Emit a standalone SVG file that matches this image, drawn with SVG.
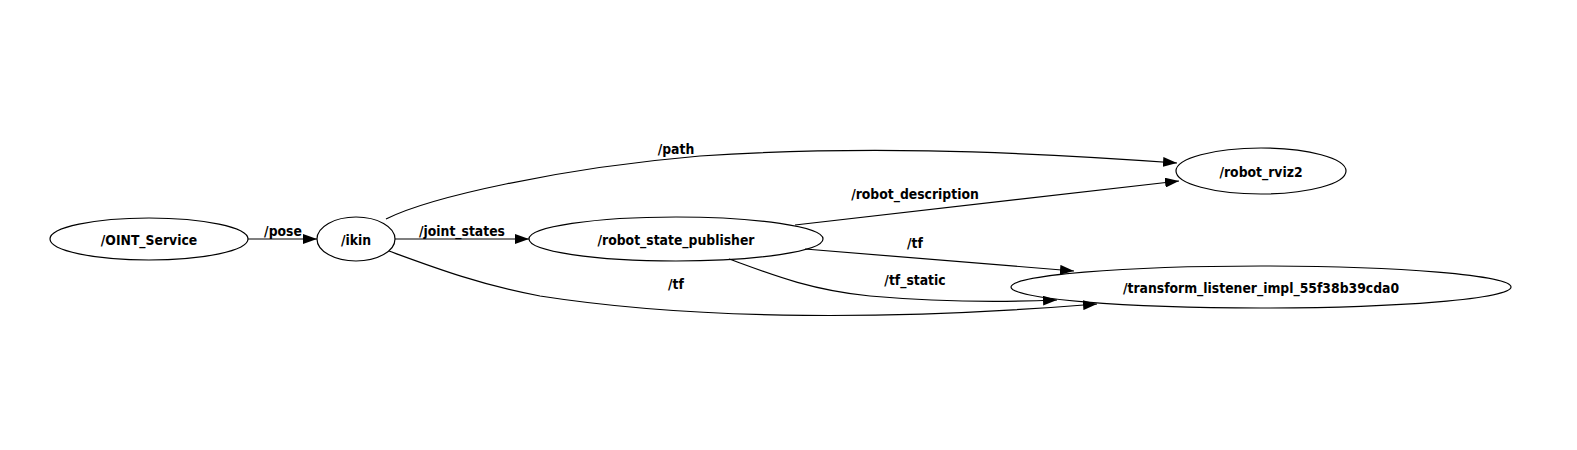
<svg xmlns="http://www.w3.org/2000/svg" width="1577" height="450" viewBox="0 0 1577 450">
<style>
.node ellipse{fill:none;stroke:#000;stroke-width:1.2}
text{font-family:"DejaVu Sans Condensed","DejaVu Sans",sans-serif;font-stretch:condensed;font-weight:bold;font-size:13.8px;fill:#000;text-anchor:middle}
.edges path{fill:none;stroke:#000;stroke-width:1.2}
</style>
<defs>
<marker id="ah" viewBox="0 0 14 10" refX="14" refY="5" markerWidth="14" markerHeight="10" markerUnits="userSpaceOnUse" orient="auto">
<path d="M0,0 L14,5 L0,10 Z" fill="#000"/>
</marker>
</defs>
<rect width="1577" height="450" fill="#fff"/>
<g class="edges">
<path d="M248,239 L317,239" marker-end="url(#ah)"/>
<path d="M395,239 L529,239" marker-end="url(#ah)"/>
<path d="M386,219 C 430,197 560,168 700,156 C 850,146 1000,150 1177,163" marker-end="url(#ah)"/>
<path d="M795,225 L1179,181" marker-end="url(#ah)"/>
<path d="M805,249 L1074,271" marker-end="url(#ah)"/>
<path d="M729,259 C 770,274 810,290 870,296 C 950,303 1010,302 1057,300" marker-end="url(#ah)"/>
<path d="M389,251 C 430,266 480,285 540,296 C 700,321 900,320 1097,304" marker-end="url(#ah)"/>
<text x="283" y="235.5">/pose</text>
<text x="462" y="235.5">/joint_states</text>
<text x="676" y="153.5">/path</text>
<text x="915" y="199">/robot_description</text>
<text x="915" y="248">/tf</text>
<text x="915" y="285">/tf_static</text>
<text x="676" y="288.5">/tf</text>
</g>
<g id="n_oint" class="node"><ellipse cx="149" cy="239" rx="99" ry="21"/><text x="149" y="245">/OINT_Service</text></g>
<g id="n_ikin" class="node"><ellipse cx="356" cy="239" rx="39" ry="22"/><text x="356" y="245">/ikin</text></g>
<g id="n_rsp" class="node"><ellipse cx="676" cy="239" rx="147" ry="22"/><text x="676" y="245">/robot_state_publisher</text></g>
<g id="n_rviz" class="node"><ellipse cx="1261" cy="171" rx="85" ry="23"/><text x="1261" y="177">/robot_rviz2</text></g>
<g id="n_tl" class="node"><ellipse cx="1261" cy="287" rx="250" ry="21"/><text x="1261" y="293">/transform_listener_impl_55f38b39cda0</text></g>
</svg>
